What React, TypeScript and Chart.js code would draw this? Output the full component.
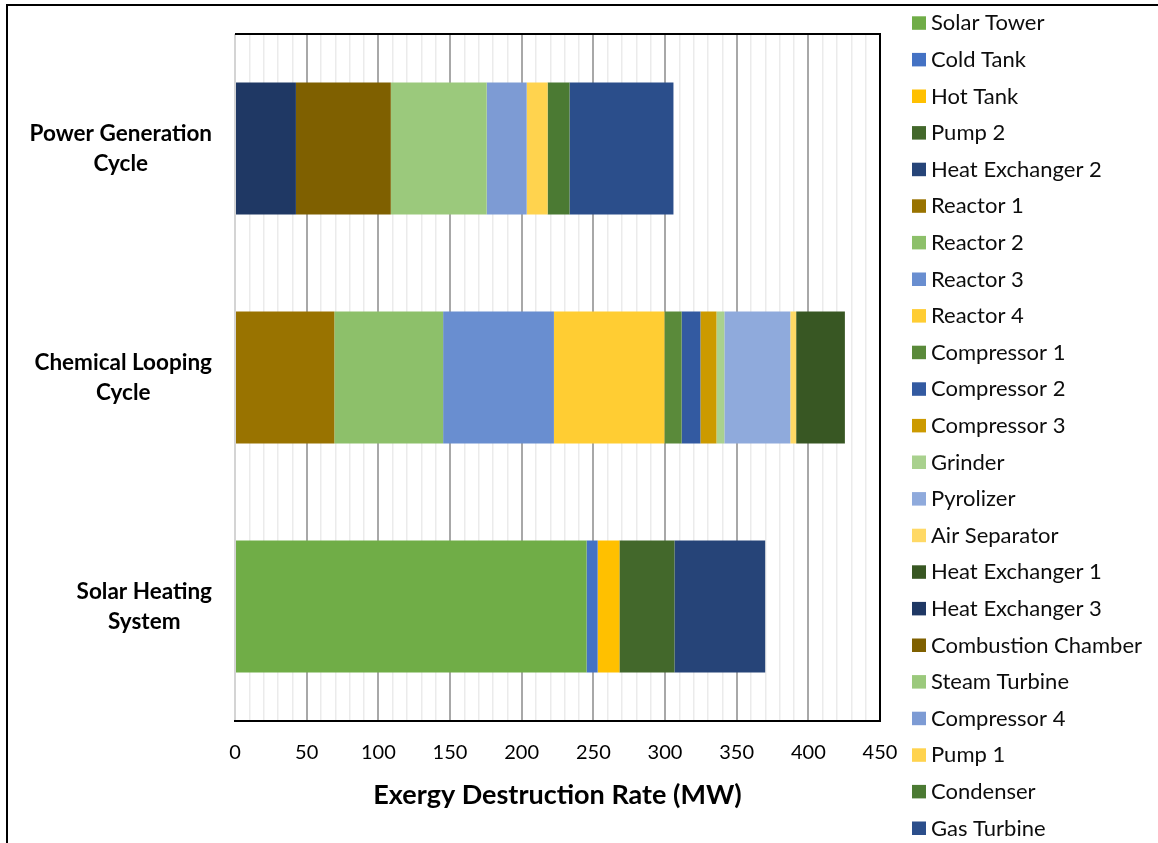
import React, { useEffect, useRef } from "react";
import { Chart, registerables } from "chart.js";

Chart.register(...registerables);

// Systems on the category axis (top to bottom), each wrapped onto two lines
const systemLabels = [
  ["Power Generation", "Cycle"],
  ["Chemical Looping", "Cycle"],
  ["Solar Heating", "System"],
];

// Solar heating system: component exergy destruction (MW)
const solarComponents = ["Solar Tower", "Cold Tank", "Hot Tank", "Pump 2", "Heat Exchanger 2"];
const solarValues = [245.3, 7.7, 15.2, 38.4, 63.3];
const solarColors = ["#70AD47", "#4472C4", "#FFC000", "#43682B", "#264478"];

// Chemical looping cycle
const chemicalComponents = [
  "Reactor 1", "Reactor 2", "Reactor 3", "Reactor 4",
  "Compressor 1", "Compressor 2", "Compressor 3",
  "Grinder", "Pyrolizer", "Air Separator", "Heat Exchanger 1",
];
const chemicalValues = [69.3, 75.9, 77.3, 77.1, 12.0, 13.1, 11.2, 5.5, 46.0, 4.1, 34.0];
const chemicalColors = [
  "#997300", "#8DC06A", "#698ED0", "#FFCD33",
  "#5A8A3A", "#335AA1", "#CC9A00",
  "#A9D18E", "#8FAADC", "#FFD966", "#385723",
];

// Power generation cycle
const powerComponents = [
  "Heat Exchanger 3", "Combustion Chamber", "Steam Turbine",
  "Compressor 4", "Pump 1", "Condenser", "Gas Turbine",
];
const powerValues = [42.5, 66.2, 66.9, 27.9, 14.6, 15.3, 72.5];
const powerColors = ["#1F3864", "#7F6000", "#9BC97C", "#7D9BD4", "#FFD34E", "#4B7A33", "#2B4E8B"];

// Value axis
const xMin = 0;
const xMax = 450;
const minorStep = 10;
const majorStep = 50;
const xTitle = "Exergy Destruction Rate (MW)";

const FONT = "Lato, 'Open Sans', sans-serif";

function buildDatasets() {
  const sets: any[] = [];
  const add = (names: string[], values: number[], colors: string[], row: number) => {
    names.forEach((name, i) => {
      const data: (number | null)[] = [null, null, null];
      data[row] = values[i];
      sets.push({
        label: name,
        data,
        backgroundColor: colors[i],
        borderWidth: 0,
        barPercentage: 0.576,
        categoryPercentage: 1,
      });
    });
  };
  add(solarComponents, solarValues, solarColors, 2);
  add(chemicalComponents, chemicalValues, chemicalColors, 1);
  add(powerComponents, powerValues, powerColors, 0);
  return sets;
}

// Outer frame, plot frame, category labels and the legend column
const decorPlugin = {
  id: "decor",
  afterDatasetsDraw(chart: any) {
    const { ctx, chartArea } = chart;
    ctx.save();
    ctx.fillStyle = "#000";
    // plot frame: top and right edges
    ctx.fillRect(chartArea.left, chartArea.top - 1, chartArea.right - chartArea.left + 1, 2);
    ctx.fillRect(chartArea.right - 1, chartArea.top - 1, 2, chartArea.bottom - chartArea.top + 1);
    ctx.restore();
  },
  afterDraw(chart: any) {
    const { ctx } = chart;
    const yScale = chart.scales.y;
    ctx.save();
    // outer frame
    ctx.fillStyle = "#000";
    ctx.fillRect(6, 4, 2, chart.height);
    ctx.fillRect(6, 4, chart.width, 2);

    // category labels: each block right-aligned, its lines centred
    ctx.font = `bold 22.5px ${FONT}`;
    ctx.fillStyle = "#000";
    ctx.textAlign = "center";
    ctx.textBaseline = "middle";
    const lineGap = 30;
    const rightEdge = 212;
    systemLabels.forEach((lines, i) => {
      const cy = yScale.getPixelForValue(i);
      const w = Math.max(...lines.map((l) => ctx.measureText(l).width));
      const cx = rightEdge - w / 2;
      lines.forEach((line, j) => {
        ctx.fillText(line, cx, cy + (j - (lines.length - 1) / 2) * lineGap);
      });
    });

    // legend column
    ctx.font = `22px ${FONT}`;
    ctx.textAlign = "left";
    chart.data.datasets.forEach((ds: any, i: number) => {
      const cy = 22.8 + 36.6 * i;
      ctx.fillStyle = ds.backgroundColor;
      ctx.fillRect(912, cy - 6.5, 14, 13.5);
      ctx.fillStyle = "#0D0D0D";
      ctx.fillText(ds.label, 931, cy + 0.5);
    });
    ctx.restore();
  },
};

export default function App() {
  const canvasRef = useRef<HTMLCanvasElement | null>(null);

  useEffect(() => {
    if (!canvasRef.current) return;
    const chart = new Chart(canvasRef.current, {
      type: "bar",
      data: {
        labels: systemLabels.map((l) => l.join(" ")),
        datasets: buildDatasets(),
      },
      options: {
        indexAxis: "y",
        animation: false,
        responsive: false,
        devicePixelRatio: 1,
        layout: { padding: { left: 235, top: 34, right: 278, bottom: 0 } },
        plugins: {
          legend: { display: false },
          tooltip: { enabled: false },
        },
        scales: {
          x: {
            type: "linear",
            stacked: true,
            min: xMin,
            max: xMax,
            afterFit: (scale: any) => {
              scale.height = 843 - 721;
            },
            ticks: {
              stepSize: minorStep,
              autoSkip: false,
              maxRotation: 0,
              padding: 20,
              color: "#000",
              font: { family: FONT, size: 20 },
              callback: (v: any) => (Number(v) % majorStep === 0 ? String(v) : ""),
            },
            grid: {
              drawTicks: false,
              color: (ctx: any) => {
                const v = ctx.tick ? ctx.tick.value : 0;
                if (v === 0) return "#D4D4D4";
                return v % majorStep === 0 ? "#A8A8A8" : "#EBEBEB";
              },
              lineWidth: (ctx: any) => {
                const v = ctx.tick ? ctx.tick.value : 0;
                return v % majorStep === 0 ? 2 : 1.5;
              },
            },
            border: { display: true, color: "#000", width: 2 },
            title: {
              display: true,
              text: xTitle,
              color: "#000",
              font: { family: FONT, size: 27, weight: "bold" },
              padding: { top: 0, bottom: 32 },
            },
          },
          y: {
            type: "category",
            stacked: true,
            display: false,
          },
        },
      },
      plugins: [decorPlugin],
    });
    return () => chart.destroy();
  }, []);

  return (
    <div style={{ position: "absolute", left: 0, top: 0, width: 1158, height: 843, background: "#fff" }}>
      <canvas ref={canvasRef} width={1158} height={843} style={{ width: 1158, height: 843, display: "block" }} />
    </div>
  );
}
